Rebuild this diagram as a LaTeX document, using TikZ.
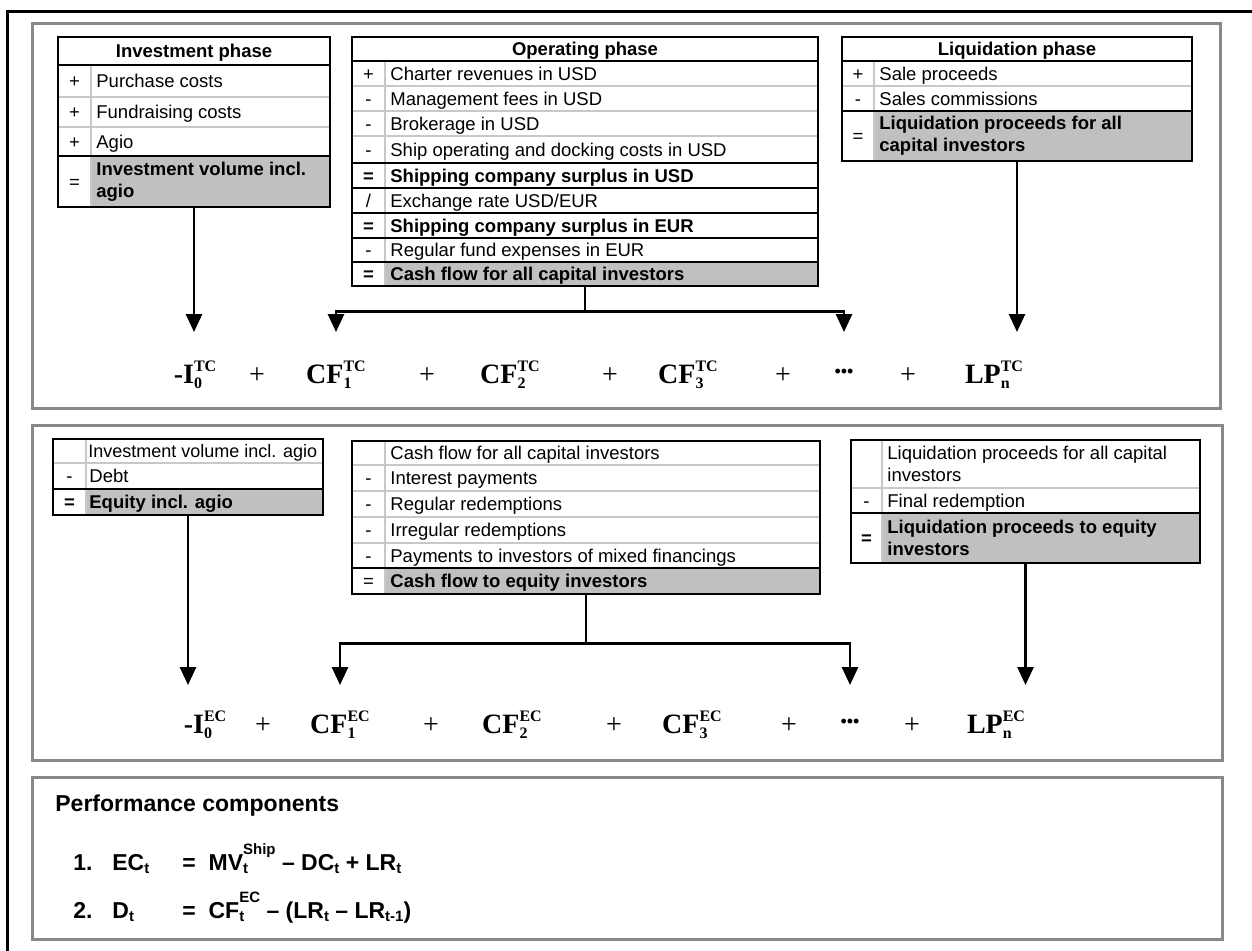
\documentclass[tikz,border=0pt]{standalone}
\usepackage{fontspec}
\setmainfont{Liberation Sans}
\newfontfamily\serifbf{Liberation Serif}
\usetikzlibrary{arrows.meta,fit}
\definecolor{panelgray}{RGB}{136,136,136}
\definecolor{rulegray}{RGB}{200,200,200}
\definecolor{cellgray}{RGB}{192,192,192}
\newcommand\tabfont{\fontsize{9.25}{11}\selectfont}
\newcommand\fmlfont{\serifbf\bfseries\fontsize{14}{16}\selectfont}
\newcommand\perffont{\bfseries\fontsize{11.5}{13}\selectfont}
\newcommand\fscr{\fontsize{8}{8}\selectfont}
\newcommand\pscr{\fontsize{7.5}{8}\selectfont}
\newcommand\fsubsup[2]{\rlap{\raisebox{-2.5pt}{\fscr#1}}\raisebox{6pt}{\fscr#2}}
\newcommand\psub[1]{\raisebox{-1.5pt}{\pscr#1}}
\newcommand\psubsup[2]{\rlap{\raisebox{-1.5pt}{\pscr#1}}\raisebox{8pt}{\pscr#2}}
\begin{document}
\begin{tikzpicture}[x=0.5pt,y=-0.5pt,
    frame/.style={draw=black,line width=1.5pt},
    panel/.style={draw=panelgray,line width=1.5pt},
    tbl/.style={draw=black,line width=1.3pt,inner sep=0pt},
    blk/.style={draw=black,line width=1.1pt},
    gry/.style={draw=rulegray,line width=1pt},
    shade/.style={fill=cellgray},
    hdr/.style={font=\tabfont\bfseries,anchor=base,inner sep=0pt},
    sgn/.style={font=\tabfont,anchor=base,inner sep=0pt},
    item/.style={font=\tabfont,anchor=base west,inner sep=0pt},
    bitem/.style={font=\tabfont\bfseries,anchor=base west,inner sep=0pt},
    bitem2/.style={font=\tabfont\bfseries,anchor=west,align=left,inner sep=0pt},
    item2/.style={font=\tabfont,anchor=west,align=left,inner sep=0pt},
    fml/.style={font=\fmlfont,anchor=base,inner sep=0pt},
    plus/.style={font=\serifbf\fontsize{14}{16}\selectfont,anchor=base,inner sep=0pt},
    perf/.style={font=\perffont,anchor=base west,inner sep=0pt},
    conn/.style={line width=1.4pt},
    arr/.style={line width=1.4pt,-{Triangle[width=8pt,length=9pt]}}]
  \useasboundingbox (0,0) rectangle (1252,950);
  \clip (0,0) rectangle (1252,950);
  \draw[frame] (7,11) rectangle (1270,970);
  \draw[panel] (32,23) rectangle (1220,408);
  \draw[panel] (32,425) rectangle (1222,760);
  \draw[panel] (32,777) rectangle (1222,939);

  % investment phase
  \fill[shade] (91,156) rectangle (330,207);
  \draw[gry] (91,65) -- (91,207);
  \draw[gry] (58,97) -- (330,97);
  \draw[gry] (58,127) -- (330,127);
  \draw[blk] (58,65) -- (330,65);
  \draw[blk] (58,156) -- (330,156);
  \node[tbl,fit={(58,37) (330,207)}] (inv) {};
  \node[hdr] (invh) at (194,57.5) {Investment phase};
  \node[sgn] (s1) at (74.5,87.5) {+};
  \node[item] (t1) at (96,87.5) {Purchase costs};
  \node[sgn] (s2) at (74.5,118.5) {+};
  \node[item] (t2) at (96,118.5) {Fundraising costs};
  \node[sgn] (s3) at (74.5,148) {+};
  \node[item] (t3) at (96,148) {Agio};
  \node[sgn] (s4) at (74.5,188) {=};
  \node[bitem2] (t4) at (96,181.5) {Investment volume incl.\\agio};

  % operating phase
  \fill[shade] (385,262) rectangle (818,286);
  \draw[gry] (385,61) -- (385,286);
  \draw[gry] (352,86) -- (818,86);
  \draw[gry] (352,111) -- (818,111);
  \draw[gry] (352,136) -- (818,136);
  \draw[blk] (352,61) -- (818,61);
  \draw[blk] (352,163) -- (818,163);
  \draw[blk] (352,188) -- (818,188);
  \draw[blk] (352,213) -- (818,213);
  \draw[blk] (352,238) -- (818,238);
  \draw[blk] (352,262) -- (818,262);
  \node[tbl,fit={(352,37) (818,286)}] (op) {};
  \node[hdr] (oph) at (585,55.5) {Operating phase};
  \node[sgn] (s5) at (368.5,80) {+};
  \node[item] (t5) at (390,80) {Charter revenues in USD};
  \node[sgn] (s6) at (368.5,105) {-};
  \node[item] (t6) at (390,105) {Management fees in USD};
  \node[sgn] (s7) at (368.5,130) {-};
  \node[item] (t7) at (390,130) {Brokerage in USD};
  \node[sgn] (s8) at (368.5,156) {-};
  \node[item] (t8) at (390,156) {Ship operating and docking costs in USD};
  \node[sgn] (s9) at (368.5,182) {\bfseries =};
  \node[bitem] (t9) at (390,182) {Shipping company surplus in USD};
  \node[sgn] (s10) at (368.5,207) {/};
  \node[item] (t10) at (390,207) {Exchange rate USD/EUR};
  \node[sgn] (s11) at (368.5,232) {\bfseries =};
  \node[bitem] (t11) at (390,232) {Shipping company surplus in EUR};
  \node[sgn] (s12) at (368.5,256.5) {-};
  \node[item] (t12) at (390,256.5) {Regular fund expenses in EUR};
  \node[sgn] (s13) at (368.5,280.5) {\bfseries =};
  \node[bitem] (t13) at (390,280.5) {Cash flow for all capital investors};

  % liquidation phase
  \fill[shade] (874,111) rectangle (1192,161);
  \draw[gry] (874,61) -- (874,161);
  \draw[gry] (842,86) -- (1192,86);
  \draw[blk] (842,61) -- (1192,61);
  \draw[blk] (842,111) -- (1192,111);
  \node[tbl,fit={(842,37) (1192,161)}] (liq) {};
  \node[hdr] (liqh) at (1017,55.5) {Liquidation phase};
  \node[sgn] (s14) at (858,80) {+};
  \node[item] (t14) at (879,80) {Sale proceeds};
  \node[sgn] (s15) at (858,105) {-};
  \node[item] (t15) at (879,105) {Sales commissions};
  \node[sgn] (s16) at (858,142.5) {=};
  \node[bitem2] (t16) at (879,136) {Liquidation proceeds for all\\capital investors};

  % total capital row
  \coordinate (tipa) at (0,332);
  \node[fml] (i0a) at (195,383) {-I\fsubsup{0}{TC}};
  \node[plus] (p1a) at (257,383) {+};
  \node[fml] (cf1a) at (336,383) {CF\fsubsup{1}{TC}};
  \node[plus] (p2a) at (427,383) {+};
  \node[fml] (cf2a) at (510,383) {CF\fsubsup{2}{TC}};
  \node[plus] (p3a) at (610,383) {+};
  \node[fml] (cf3a) at (688,383) {CF\fsubsup{3}{TC}};
  \node[plus] (p4a) at (783,383) {+};
  \node[fml] (dota) at (844,383) {\raisebox{3pt}{\fontsize{9}{9}\selectfont •••}};
  \node[plus] (p5a) at (908,383) {+};
  \node[fml] (lpa) at (994,383) {LP\fsubsup{n}{TC}};
  \draw[arr] (inv.south) -- (inv.south |- tipa);
  \draw[conn] (op.south) -- ++(0,24) coordinate (opa);
  \draw[arr] (opa) -| (cf1a |- tipa);
  \draw[arr] (opa) -| (dota |- tipa);
  \draw[arr] (liq.south) -- (liq.south |- tipa);

  % equity tables
  \fill[shade] (86,489) rectangle (323,515);
  \draw[gry] (86,439) -- (86,515);
  \draw[gry] (53,463) -- (323,463);
  \draw[blk] (53,489) -- (323,489);
  \node[tbl,fit={(53,439) (323,515)}] (eqt) {};
  \node[item] (t17) at (88,457.5) {\fontsize{9}{11}\selectfont Investment volume incl. agio};
  \node[sgn] (s18) at (69.5,482.5) {-};
  \node[item] (t18) at (89,482.5) {Debt};
  \node[sgn] (s19) at (69.5,508.5) {\bfseries =};
  \node[bitem] (t19) at (89,508.5) {Equity incl. agio};

  \fill[shade] (385,568) rectangle (820,594);
  \draw[gry] (385,441) -- (385,594);
  \draw[gry] (352,465) -- (820,465);
  \draw[gry] (352,491) -- (820,491);
  \draw[gry] (352,517) -- (820,517);
  \draw[gry] (352,543) -- (820,543);
  \draw[blk] (352,568) -- (820,568);
  \node[tbl,fit={(352,441) (820,594)}] (cfe) {};
  \node[item] (t20) at (390,459.5) {Cash flow for all capital investors};
  \node[sgn] (s21) at (368.5,484.5) {-};
  \node[item] (t21) at (390,484.5) {Interest payments};
  \node[sgn] (s22) at (368.5,510.5) {-};
  \node[item] (t22) at (390,510.5) {Regular redemptions};
  \node[sgn] (s23) at (368.5,536.5) {-};
  \node[item] (t23) at (390,536.5) {Irregular redemptions};
  \node[sgn] (s24) at (368.5,562) {-};
  \node[item] (t24) at (390,562) {Payments to investors of mixed financings};
  \node[sgn] (s25) at (368.5,587.5) {=};
  \node[bitem] (t25) at (390,587.5) {Cash flow to equity investors};

  \fill[shade] (882,513) rectangle (1200,563);
  \draw[gry] (882,440) -- (882,563);
  \draw[gry] (851,488) -- (1200,488);
  \draw[blk] (851,513) -- (1200,513);
  \node[tbl,fit={(851,440) (1200,563)}] (lpe) {};
  \node[item2] (t26) at (887,464) {Liquidation proceeds for all capital\\investors};
  \node[sgn] (s27) at (866.5,507) {-};
  \node[item] (t27) at (887,507) {Final redemption};
  \node[sgn] (s28) at (866.5,544.5) {\bfseries =};
  \node[bitem2] (t28) at (887,538) {Liquidation proceeds to equity\\investors};

  % equity capital row
  \coordinate (tipb) at (0,685);
  \node[fml] (i0b) at (205,733) {-I\fsubsup{0}{EC}};
  \node[plus] (p1b) at (263,733) {+};
  \node[fml] (cf1b) at (340,733) {CF\fsubsup{1}{EC}};
  \node[plus] (p2b) at (431,733) {+};
  \node[fml] (cf2b) at (512,733) {CF\fsubsup{2}{EC}};
  \node[plus] (p3b) at (614,733) {+};
  \node[fml] (cf3b) at (692,733) {CF\fsubsup{3}{EC}};
  \node[plus] (p4b) at (789,733) {+};
  \node[fml] (dotb) at (850,733) {\raisebox{3pt}{\fontsize{9}{9}\selectfont •••}};
  \node[plus] (p5b) at (912,733) {+};
  \node[fml] (lpb) at (996,733) {LP\fsubsup{n}{EC}};
  \draw[arr] (eqt.south) -- (eqt.south |- tipb);
  \draw[conn] (cfe.south) -- ++(0,48) coordinate (opb);
  \draw[arr] (opb) -| (cf1b |- tipb);
  \draw[arr] (opb) -| (dotb |- tipb);
  \draw[arr] (lpe.south) -- (lpe.south |- tipb);

  % performance components
  \node[perf] (perfh) at (55,811) {Performance components};
  \node[perf] (n1) at (73,870) {1.};
  \node[perf] (lhs1) at (112,870) {EC\psub{t}};
  \node[perf] (rhs1) at (182,870) {=\ \ MV\psubsup{t}{Ship} -- DC\psub{t} + LR\psub{t}};
  \node[perf] (n2) at (73,918) {2.};
  \node[perf] (lhs2) at (112,918) {D\psub{t}};
  \node[perf] (rhs2) at (182,918) {=\ \ CF\psubsup{t}{EC} -- (LR\psub{t} -- LR\psub{t-1})};
\end{tikzpicture}
\end{document}
